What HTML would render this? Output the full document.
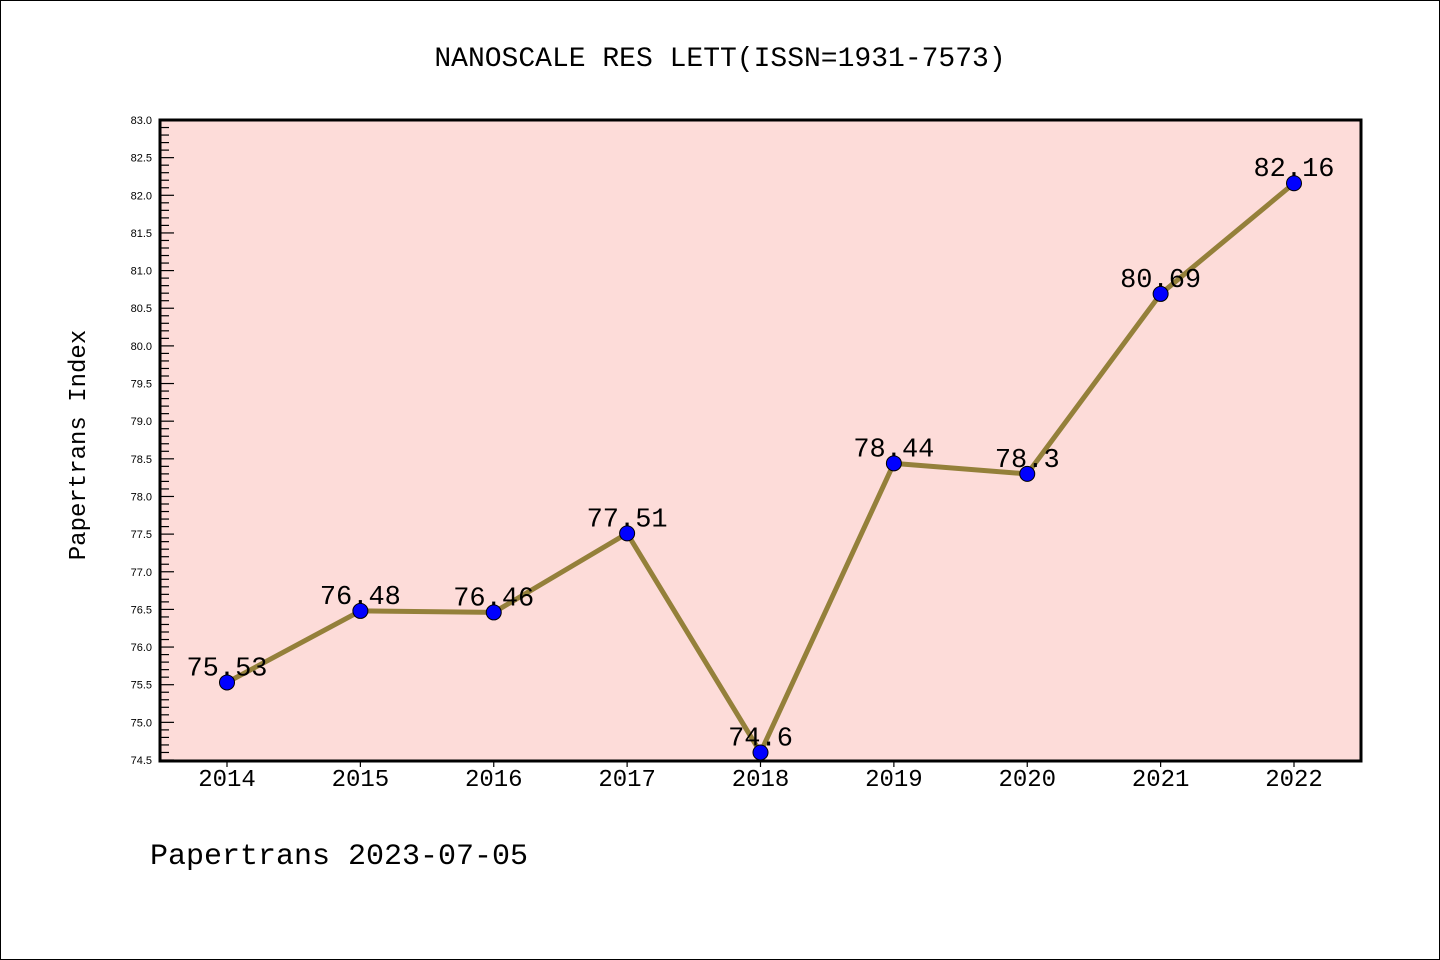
<!DOCTYPE html>
<html><head><meta charset="utf-8"><style>
html,body{margin:0;padding:0;background:#fff}
svg{display:block}
.mono{font-family:"Liberation Mono","DejaVu Sans Mono",monospace}
.sans{font-family:"Liberation Sans","DejaVu Sans",sans-serif}
</style></head><body>
<svg id="chart" width="1440" height="960" viewBox="0 0 1440 960">
<rect x="0.5" y="0.5" width="1439" height="959" fill="#fff" stroke="#000"/>
<text class="mono" x="720" y="66" font-size="28" text-anchor="middle">NANOSCALE RES LETT(ISSN=1931-7573)</text>
<rect x="160" y="120" width="1201" height="641" fill="#fddcd9"/>
<g id="yaxis"></g>
<g id="xaxis"></g>
<g id="series"></g>
<rect x="160" y="120" width="1201" height="641" fill="none" stroke="#000" stroke-width="3"/>
<text class="mono" transform="translate(85,445) rotate(-90)" font-size="24" text-anchor="middle">Papertrans Index</text>
<text class="mono" x="150" y="864" font-size="30">Papertrans 2023-07-05</text>
</svg>
<script>
const years = ["2014","2015","2016","2017","2018","2019","2020","2021","2022"];
const values = [75.53, 76.48, 76.46, 77.51, 74.6, 78.44, 78.3, 80.69, 82.16];
const valueLabels = ["75.53","76.48","76.46","77.51","74.6","78.44","78.3","80.69","82.16"];
const yMin = 74.5, yMax = 83.0;
const NS = "http://www.w3.org/2000/svg";
const X0 = 227, XSTEP = (1294 - 227) / 8;
const Y_TOP = 120, Y_BOT = 760;
function xs(i){ return X0 + i * XSTEP; }
function ys(v){ return Y_BOT - (v - yMin) / (yMax - yMin) * (Y_BOT - Y_TOP); }
function mk(tag, attrs, parent){ const e = document.createElementNS(NS, tag); for (const k in attrs) e.setAttribute(k, attrs[k]); parent.appendChild(e); return e; }
const yaxis = document.getElementById('yaxis');
for (let k = 0; k <= 85; k++) {
  const v = yMin + k * 0.1;
  const y = ys(v);
  const major = k % 5 === 0;
  const t = mk('line', {x1:160, x2:160 + (major ? 14 : 9), y1:y, y2:y, stroke:'#000', 'stroke-width':1.2}, yaxis);
  
  
  if (major) {
    const lb = mk('text', {x:152, y:y + 4, 'font-size':11, 'text-anchor':'end', class:'sans'}, yaxis);
    lb.textContent = v.toFixed(1);
    
    
  }
}
const xaxis = document.getElementById('xaxis');
years.forEach((yr, i) => {
  const x = xs(i);
  const t = mk('line', {x1:x, x2:x, y1:761, y2:767, stroke:'#000', 'stroke-width':1.2}, xaxis);
  
  
  const lb = mk('text', {x:x, y:786, 'font-size':24, 'text-anchor':'middle', class:'mono'}, xaxis);
  lb.textContent = yr;
  
  
});
const series = document.getElementById('series');
const pts = values.map((v, i) => xs(i) + ',' + ys(v)).join(' ');
const pl = mk('polyline', {points:pts, fill:'none', stroke:'#94803a', 'stroke-width':5, 'stroke-linejoin':'round'}, series);


values.forEach((v, i) => {
  const lb = mk('text', {x:xs(i), y:ys(v) - 7, 'font-size':27, 'text-anchor':'middle', class:'mono'}, series);
  lb.textContent = valueLabels[i];
  
  
  const c = mk('circle', {cx:xs(i), cy:ys(v), r:7.5, fill:'#0000ff', stroke:'#000', 'stroke-width':1}, series);
  
  
});
</script>
</body></html>
